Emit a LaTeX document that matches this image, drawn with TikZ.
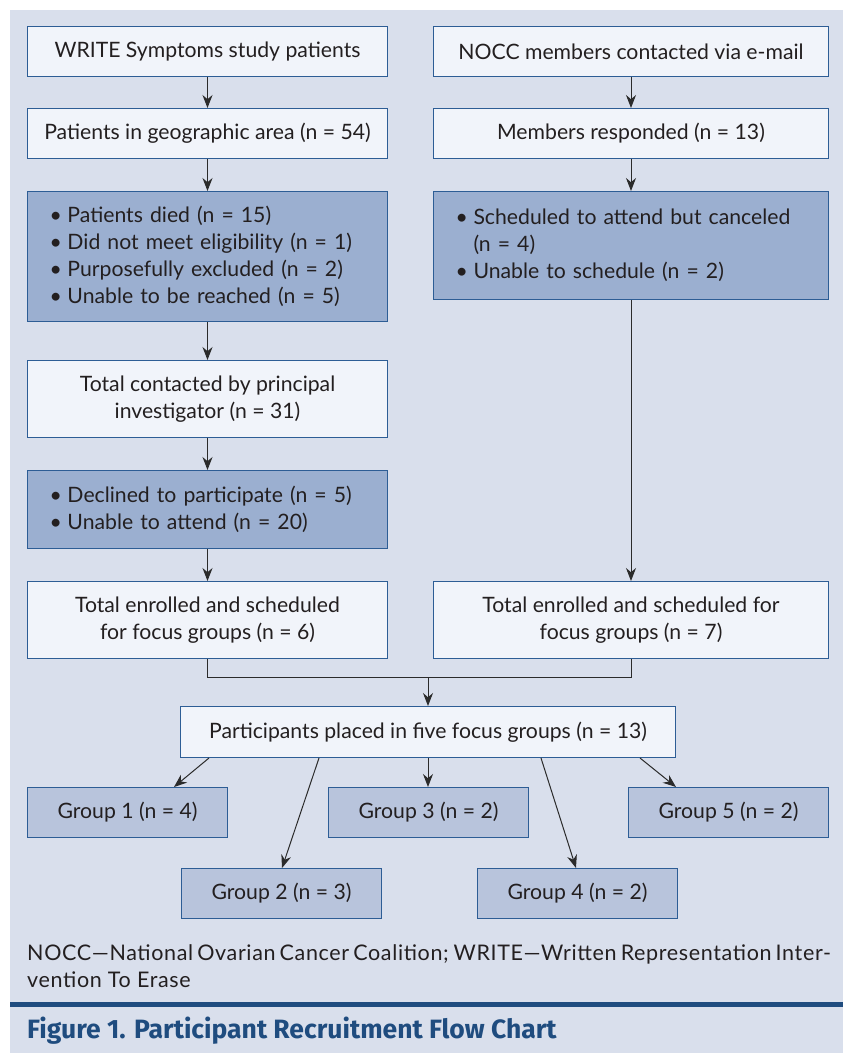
\documentclass[tikz,border=0pt]{standalone}
\usepackage{fontspec}
\setmainfont{Lato}
\newfontfamily\titlefont{Fira Sans}
\newfontfamily\notefont[LetterSpace=3]{Lato}
\usetikzlibrary{arrows.meta,calc}
\definecolor{bg}{HTML}{D9DFEC}
\definecolor{lightbox}{HTML}{F1F4FA}
\definecolor{darkbox}{HTML}{9BAFD0}
\definecolor{grpbox}{HTML}{B8C4DC}
\definecolor{bord}{HTML}{2D5D95}
\definecolor{navy}{HTML}{1F4C7F}
\definecolor{arr}{HTML}{2B2B2B}
\definecolor{txt}{HTML}{231F20}
\newcommand\bitem[1]{\makebox[18pt][l]{\textbullet}#1}
\begin{document}
\begin{tikzpicture}[x=1pt,y=-1pt,
  font=\fontsize{21.2}{27}\selectfont,
  box/.style={draw=bord, line width=1pt, fill=lightbox, anchor=north west,
    inner sep=0pt, align=center, text=txt},
  dbox/.style={box, fill=darkbox, align=left},
  gbox/.style={box, fill=grpbox, minimum width=200, minimum height=50},
  conn/.style={draw=arr, line width=1pt},
  arrow/.style={conn, -{Stealth[length=13pt,width=10pt]}}]
\useasboundingbox (0,0) rectangle (847,1053);
\fill[white] (0,0) rectangle (847,1053);
\fill[bg] (10,10) rectangle (843,1053);

% left column
\node[box, minimum width=360, minimum height=50] (A) at (27,26) {WRITE Symptoms study patients};
\node[box, minimum width=360, minimum height=50] (B) at (27,108) {Patients in geographic area (n = 54)};
\node[dbox, minimum width=360, minimum height=130, text width=316] (C) at (27,191)
  {\bitem{Patients died (n = 15)}\\ \bitem{Did not meet eligibility (n = 1)}\\ \bitem{Purposefully excluded (n = 2)}\\ \bitem{Unable to be reached (n = 5)}};
\node[box, minimum width=360, minimum height=77] (D) at (27,360) {Total contacted by principal\\investigator (n = 31)};
\node[dbox, minimum width=360, minimum height=78, text width=316] (E) at (27,470)
  {\bitem{Declined to participate (n = 5)}\\ \bitem{Unable to attend (n = 20)}};
\node[box, minimum width=360, minimum height=77] (F) at (27,581) {Total enrolled and scheduled\\for focus groups (n = 6)};

% right column
\node[box, minimum width=395, minimum height=50] (G) at (433,26) {NOCC members contacted via e-mail};
\node[box, minimum width=395, minimum height=50] (H) at (433,108) {Members responded (n = 13)};
\node[dbox, minimum width=395, minimum height=108, text width=351] (I) at (433,191)
  {\bitem{Scheduled to attend but canceled}\\ \hspace*{18pt}(n = 4)\\ \bitem{Unable to schedule (n = 2)}};
\node[box, minimum width=395, minimum height=77] (J) at (433,581) {Total enrolled and scheduled for\\focus groups (n = 7)};

% participants and groups
\node[box, minimum width=495, minimum height=51] (P) at (180,706) {Participants placed in five focus groups (n = 13)};
\node[gbox] (G1) at (27,787) {Group 1 (n = 4)};
\node[gbox] (G3) at (328,787) {Group 3 (n = 2)};
\node[gbox] (G5) at (628,787) {Group 5 (n = 2)};
\node[gbox] (G2) at (181,868) {Group 2 (n = 3)};
\node[gbox] (G4) at (477,868) {Group 4 (n = 2)};

% connectors
\draw[arrow] (A.south) -- (B.north);
\draw[arrow] (B.south) -- (C.north);
\draw[arrow] (C.south) -- (D.north);
\draw[arrow] (D.south) -- (E.north);
\draw[arrow] (E.south) -- (F.north);
\draw[arrow] (G.south) -- (H.north);
\draw[arrow] (H.south) -- (I.north);
\draw[arrow] (I.south) -- (J.north);
\coordinate (m) at ($(P.north)+(0,-29)$);
\draw[conn] (F.south) |- (m) -| (J.south);
\draw[arrow] (m) -- (P.north);
\draw[arrow] ($(P.south west)+(29,0)$) -- ($(G1.north west)+(147,0)$);
\draw[arrow] ($(P.south west)+(139,0)$) -- ($(G2.north west)+(101,0)$);
\draw[arrow] (P.south) -- (P.south |- G3.north);
\draw[arrow] ($(P.south west)+(361,0)$) -- ($(G4.north west)+(99,0)$);
\draw[arrow] ($(P.south west)+(460,0)$) -- ($(G5.north west)+(48,0)$);

% footnote and title
\node[anchor=base west, text width=800, align=justify, inner sep=0pt, text=txt,
  font=\notefont\fontsize{21.5}{27}\selectfont] (fn) at (27,960)
  {NOCC—National Ovarian Cancer Coalition; WRITE—Written Representation Inter-\linebreak vention To Erase};
\fill[navy] (10,1002) rectangle (843,1007);
\node[anchor=base west, inner sep=0pt, text=navy, font=\titlefont\bfseries\fontsize{26.5}{30}\selectfont] (title) at (27,1038)
  {Figure 1. Participant Recruitment Flow Chart};
\end{tikzpicture}
\end{document}
